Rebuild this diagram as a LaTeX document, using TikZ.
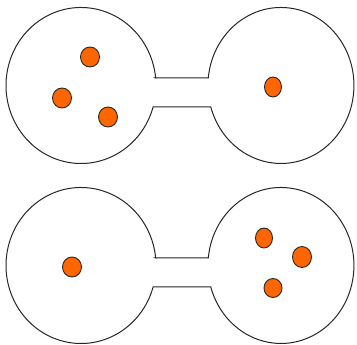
\documentclass[tikz,border=0pt]{standalone}
\usepackage{xcolor}
\usepackage{tikz}
\usetikzlibrary{shapes.geometric}
\definecolor{ballorange}{HTML}{FF6600}

\begin{document}
\begin{tikzpicture}[x=1pt, y=1pt,
		vessel/.style={draw=black!85, line width=1pt},
		particle/.style={ellipse, draw=black!85, line width=0.9pt, fill=ballorange, inner sep=0pt, minimum width=19pt, minimum height=20pt}]
		\useasboundingbox (0,0) rectangle (357,345);
		
		% Two bulbs joined by a narrow tube (top: before, bottom: after)
		\foreach \dy in {0,-180} {
			\draw[vessel, shift={(0,\dy)}] (155.6,267) -- (208.3,267)
				arc[start angle=174.5, end angle=-164, x radius=73, y radius=78]
				-- (153.1,238)
				arc[start angle=-16, end angle=-354.5, x radius=75, y radius=78] -- cycle;
		}
		
		% Particles, top
		\node[particle] (t1) at (90,288) {};
		\node[particle] (t2) at (62,247) {};
		\node[particle] (t3) at (108,228) {};
		\node[particle, minimum width=17pt] (t4) at (273,258) {};
		
		% Particles, bottom
		\node[particle] (b1) at (72,78) {};
		\node[particle, minimum width=17pt] (b2) at (264,107) {};
		\node[particle, minimum height=21pt] (b3) at (302,88) {};
		\node[particle, minimum width=18pt, minimum height=19pt] (b4) at (273,57) {};
	\end{tikzpicture}
\end{document}
